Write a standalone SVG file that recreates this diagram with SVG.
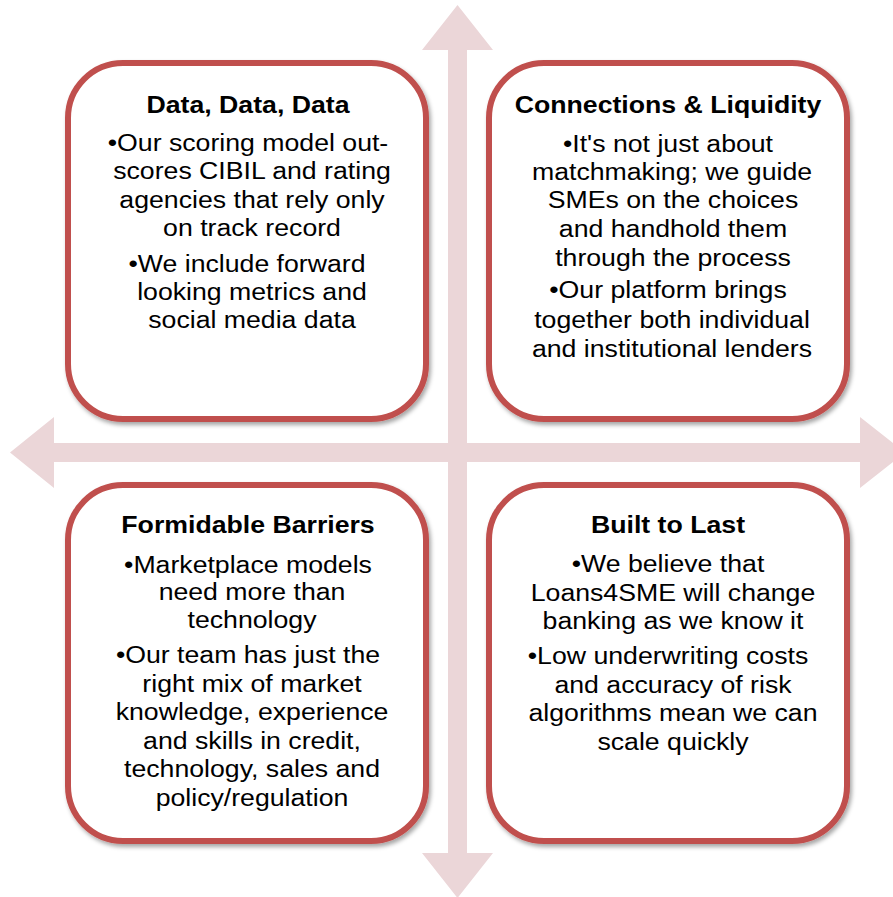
<svg xmlns="http://www.w3.org/2000/svg" width="893" height="897" viewBox="0 0 893 897">
<style>
.box{fill:#ffffff;stroke:#c0504d;stroke-width:6;filter:url(#sh)}
.arrow{fill:#ebd6d8;stroke:none}
text{font-family:"Liberation Sans",Arial,sans-serif;font-size:23px;fill:#000;text-anchor:middle}
.t{font-weight:bold}
</style>
<defs>
<filter id="sh" x="-10%" y="-10%" width="125%" height="125%">
<feDropShadow dx="2" dy="3" stdDeviation="2" flood-color="#000" flood-opacity="0.35"/>
</filter>
</defs>
<rect width="893" height="897" fill="#ffffff"/>
<g id="connectors">
<polygon class="arrow" points="457.5,5 493,50 467,50 467,443 860,443 860,417 905,452.5 860,488 860,462 467,462 467,853 493,853 457.5,898 422,853 448,853 448,462 54,462 54,488 10,452.5 54,417 54,443 448,443 448,50 422,50"/>
</g>
<g id="node-data">
<rect class="box" x="68" y="63" width="358" height="356" rx="55" ry="55"/>
<text class="t" transform="translate(248,113) scale(1.16,1)">Data, Data, Data</text>
<text transform="translate(248,151) scale(1.16,1)">•Our scoring model out-</text>
<text transform="translate(252,179) scale(1.16,1)">scores CIBIL and rating</text>
<text transform="translate(252,208) scale(1.16,1)">agencies that rely only</text>
<text transform="translate(252,236) scale(1.16,1)">on track record</text>
<text transform="translate(247,272) scale(1.16,1)">•We include forward</text>
<text transform="translate(252,300) scale(1.16,1)">looking metrics and</text>
<text transform="translate(252,328) scale(1.16,1)">social media data</text>
</g>
<g id="node-connections">
<rect class="box" x="489" y="63" width="358" height="356" rx="55" ry="55"/>
<text class="t" transform="translate(668,113) scale(1.16,1)">Connections &amp; Liquidity</text>
<text transform="translate(668,152) scale(1.16,1)">•It's not just about</text>
<text transform="translate(672,180) scale(1.16,1)">matchmaking; we guide</text>
<text transform="translate(673,208) scale(1.16,1)">SMEs on the choices</text>
<text transform="translate(673,237) scale(1.16,1)">and handhold them</text>
<text transform="translate(673,266) scale(1.16,1)">through the process</text>
<text transform="translate(668,298) scale(1.16,1)">•Our platform brings</text>
<text transform="translate(672,328) scale(1.16,1)">together both individual</text>
<text transform="translate(672,357) scale(1.16,1)">and institutional lenders</text>
</g>
<g id="node-barriers">
<rect class="box" x="68" y="485" width="358" height="356" rx="55" ry="55"/>
<text class="t" transform="translate(248,533) scale(1.16,1)">Formidable Barriers</text>
<text transform="translate(248,573) scale(1.16,1)">•Marketplace models</text>
<text transform="translate(252,600) scale(1.16,1)">need more than</text>
<text transform="translate(252,628) scale(1.16,1)">technology</text>
<text transform="translate(248,663) scale(1.16,1)">•Our team has just the</text>
<text transform="translate(252,692) scale(1.16,1)">right mix of market</text>
<text transform="translate(252,720) scale(1.16,1)">knowledge, experience</text>
<text transform="translate(252,749) scale(1.16,1)">and skills in credit,</text>
<text transform="translate(252,777) scale(1.16,1)">technology, sales and</text>
<text transform="translate(252,806) scale(1.16,1)">policy/regulation</text>
</g>
<g id="node-built">
<rect class="box" x="489" y="485" width="358" height="356" rx="55" ry="55"/>
<text class="t" transform="translate(668,533) scale(1.16,1)">Built to Last</text>
<text transform="translate(668,572) scale(1.16,1)">•We believe that</text>
<text transform="translate(673,601) scale(1.16,1)">Loans4SME will change</text>
<text transform="translate(673,629) scale(1.16,1)">banking as we know it</text>
<text transform="translate(668,664) scale(1.16,1)">•Low underwriting costs</text>
<text transform="translate(673,693) scale(1.16,1)">and accuracy of risk</text>
<text transform="translate(673,721) scale(1.16,1)">algorithms mean we can</text>
<text transform="translate(673,750) scale(1.16,1)">scale quickly</text>
</g>
</svg>
